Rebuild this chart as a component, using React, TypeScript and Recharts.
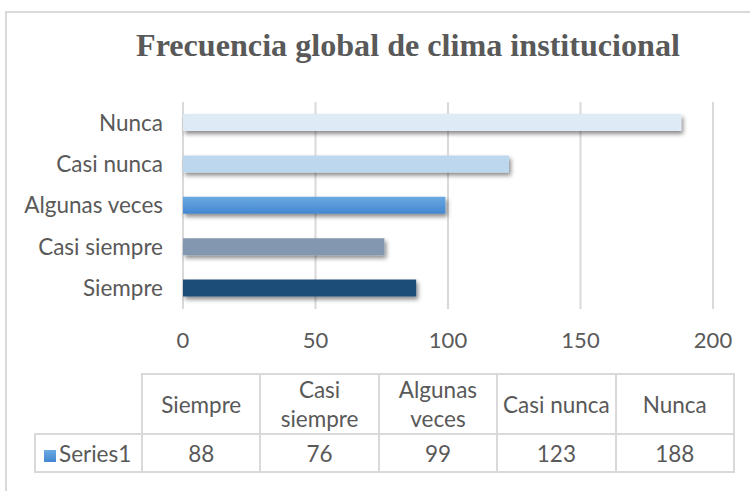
import { BarChart, Bar, XAxis, YAxis, CartesianGrid, Cell } from "recharts"

const categories = ["Siempre", "Casi siempre", "Algunas veces", "Casi nunca", "Nunca"]
const series1 = [88, 76, 99, 123, 188]
const xTicks = [0, 50, 100, 150, 200]
const seriesName = "Series1"
const chartTitle = "Frecuencia global de clima institucional"

const barFills = ["#1F4E79", "#8497B0", "url(#algunasGrad)", "#BDD7EE", "#DEEAF6"]

const data = categories.map((name, i) => ({ name, value: series1[i] }))

const font = "Lato, 'Open Sans', sans-serif"
const textColor = "#595959"
const lineColor = "#D9D9D9"

// Excel wraps the longer two-word headers onto two lines
function headerLines(label: string) {
  return label.length > 10 ? label.split(" ") : [label]
}

export default function App() {
  const cell = {
    border: `2px solid ${lineColor}`,
    textAlign: "center" as const,
    fontFamily: font,
    fontSize: 22.5,
    color: textColor,
    padding: 0,
  }

  return (
    <div style={{ position: "absolute", left: 0, top: 0, width: 750, height: 491, background: "#fff", overflow: "hidden" }}>
      <div style={{ position: "absolute", left: 5, top: 11, width: 800, height: 600, border: `2px solid ${lineColor}` }} />

      <div style={{ position: "absolute", left: 0, top: 0 }}>
        <BarChart
          width={750}
          height={491}
          data={data}
          layout="vertical"
          margin={{ top: 102, right: 37, bottom: 142, left: 8 }}
          barCategoryGap={0}
        >
          <defs>
            <linearGradient id="algunasGrad" x1="0" y1="0" x2="0" y2="1">
              <stop offset="0%" stopColor="#6AA9E2" />
              <stop offset="100%" stopColor="#4387D0" />
            </linearGradient>
            <filter id="barShadow" x="-5%" y="-30%" width="115%" height="180%">
              <feDropShadow dx="2" dy="3" stdDeviation="2" floodColor="#000" floodOpacity="0.45" />
            </filter>
          </defs>
          <text
            x={408}
            y={56}
            textAnchor="middle"
            fontFamily="'Liberation Serif', 'Times New Roman', serif"
            fontWeight="bold"
            fontSize={31}
            fill="#595959"
            textLength={544}
            lengthAdjust="spacingAndGlyphs"
          >
            {chartTitle}
          </text>
          <CartesianGrid horizontal={false} stroke={lineColor} strokeWidth={2} />
          <XAxis
            type="number"
            domain={[0, 200]}
            ticks={xTicks}
            axisLine={false}
            tickLine={false}
            tickSize={0}
            tickMargin={23}
            height={40}
            tick={{ fontSize: 22, fill: textColor, fontFamily: font }}
          />
          <YAxis
            type="category"
            dataKey="name"
            reversed
            width={175}
            axisLine={false}
            tickLine={false}
            tickSize={0}
            tickMargin={20}
            tick={{ fontSize: 22.5, fill: textColor, fontFamily: font }}
          />
          <Bar dataKey="value" barSize={17} isAnimationActive={false} filter="url(#barShadow)">
            {data.map((d, i) => (
              <Cell key={d.name} fill={barFills[i]} />
            ))}
          </Bar>
        </BarChart>
      </div>

      <table
        style={{
          position: "absolute",
          left: 34,
          top: 373,
          borderCollapse: "collapse",
          tableLayout: "fixed",
          width: 699,
        }}
      >
        <colgroup>
          <col style={{ width: 107 }} />
          {categories.map((c) => (
            <col key={c} style={{ width: 118.4 }} />
          ))}
        </colgroup>
        <tbody>
          <tr style={{ height: 59 }}>
            <td style={{ padding: 0 }} />
            {categories.map((c) => (
              <td key={c} style={{ ...cell, lineHeight: "29px" }}>
                {headerLines(c).map((l) => (
                  <div key={l}>{l}</div>
                ))}
              </td>
            ))}
          </tr>
          <tr style={{ height: 38 }}>
            <td style={{ ...cell, textAlign: "left", paddingLeft: 8, whiteSpace: "nowrap" }}>
              <span
                style={{
                  display: "inline-block",
                  width: 12,
                  height: 12,
                  marginRight: 3,
                  background: "linear-gradient(#6AA9E2, #4387D0)",
                }}
              />
              {seriesName}
            </td>
            {series1.map((v, i) => (
              <td key={categories[i]} style={cell}>
                {v}
              </td>
            ))}
          </tr>
        </tbody>
      </table>
    </div>
  )
}
